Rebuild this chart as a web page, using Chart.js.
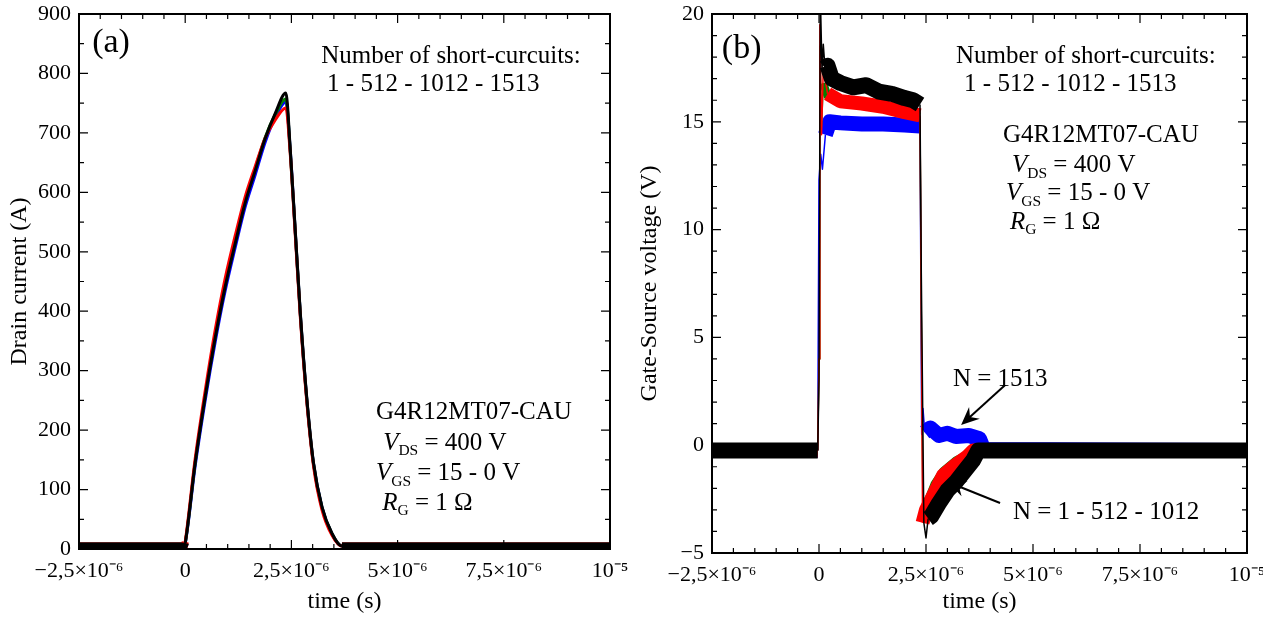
<!DOCTYPE html>
<html>
<head>
<meta charset="utf-8">
<script src="https://cdn.jsdelivr.net/npm/chart.js@4.4.1/dist/chart.umd.min.js"></script>
<style>
  html, body { margin: 0; padding: 0; background: #fff; }
  body { width: 1263px; height: 626px; position: relative; overflow: hidden; }
  canvas { position: absolute; top: 0; }
  #chartA { left: 0; }
  #chartB { left: 630px; }
</style>
</head>
<body>
<canvas id="chartA" width="630" height="626"></canvas>
<canvas id="chartB" width="633" height="626"></canvas>
<script>
// ---- data (time in microseconds) ----
const timeTicks = [-2.5e-6, 0, 2.5e-6, 5e-6, 7.5e-6, 1e-5];
const timeTickLabels = ['−2,5×10⁻⁶', '0', '2,5×10⁻⁶', '5×10⁻⁶', '7,5×10⁻⁶', '10⁻⁵'];
const currentTicks = [0, 100, 200, 300, 400, 500, 600, 700, 800, 900];
const voltageTicks = [-5, 0, 5, 10, 15, 20];
const voltageTickLabels = ['−5', '0', '5', '10', '15', '20'];

// (a) drain current, A
const drainTime = [-2.5, -0.02, 0, 0.235, 0.47, 0.71, 0.94, 1.18, 1.41, 1.65, 1.88, 2.12, 2.37, 2.47, 2.59, 2.71, 2.86, 3.02, 3.22, 3.45, 3.69, 3.84, 10];
const drainBlack = [5, 5, 10, 145, 256, 357, 441, 515, 582, 637, 690, 733, 767, 676, 537, 397, 256, 145, 71, 27, 5, 5, 5];
const drainRed   = [5, 5, 12, 152, 266, 370, 455, 528, 592, 644, 691, 722, 742, 668, 530, 390, 250, 140, 66, 24, 5, 5, 5];
const drainGreen = [5, 5, 10, 146, 258, 359, 444, 518, 585, 640, 692, 731, 757, 672, 534, 394, 253, 143, 69, 26, 5, 5, 5];
const drainBlue  = [5, 5, 9, 140, 250, 350, 434, 508, 575, 630, 684, 726, 752, 674, 535, 395, 254, 144, 70, 26, 5, 5, 5];

// (b) gate-source voltage, V
const gateTimeBlack = [-2.5, -0.03, 0, 0.03, 0.07, 0.1, 0.14, 0.2, 0.3, 0.5, 0.8, 1.1, 1.4, 1.7, 2.0, 2.2, 2.36, 2.39, 2.45, 2.5, 2.55, 2.62, 2.8, 3.0, 3.2, 3.4, 3.6, 3.72, 10];
const gateBlack = [-0.25, -0.25, 3, 21, 17.4, 18.6, 17.5, 17.6, 17.0, 16.8, 16.6, 16.7, 16.4, 16.3, 16.1, 16.0, 15.8, 8, -3.6, -4.3, -3.4, -3.3, -2.7, -2.1, -1.7, -1.2, -0.7, -0.25, -0.25];
const gateTimeRed = [-2.5, -0.03, 0, 0.02, 0.06, 0.1, 0.2, 0.5, 1.0, 1.5, 2.0, 2.36, 2.39, 2.42, 2.5, 2.7, 2.9, 3.2, 3.45, 3.6, 10];
const gateRed = [-0.25, -0.25, 4, 19.5, 14.4, 17.5, 16.3, 15.95, 15.85, 15.7, 15.45, 15.3, 6, -3.6, -3.0, -2.2, -1.4, -0.9, -0.55, -0.25, -0.25];
const gateTimeGreen = [-2.5, -0.03, 0, 0.02, 0.06, 0.1, 0.2, 0.5, 1.0, 1.5, 2.0, 2.36, 2.39, 2.43, 2.5, 2.7, 2.9, 3.2, 3.5, 3.6, 10];
const gateGreen = [-0.25, -0.25, 4, 18.5, 14.8, 16.8, 16.2, 15.9, 15.8, 15.65, 15.4, 15.25, 6, -3.2, -2.8, -1.8, -1.2, -0.7, -0.4, -0.25, -0.25];
const gateTimeBlue = [-2.5, -0.03, 0, 0.04, 0.08, 0.15, 0.25, 0.5, 1.0, 1.5, 2.0, 2.36, 2.4, 2.43, 2.47, 2.6, 2.8, 3.0, 3.2, 3.5, 3.75, 3.85, 10];
const gateBlue = [-0.25, -0.25, 12.3, 13.5, 12.8, 14.4, 15.0, 14.95, 14.9, 14.9, 14.85, 14.8, 0.5, 1.7, 0.6, 0.8, 0.45, 0.55, 0.4, 0.45, 0.3, -0.2, -0.25];

const SERIF = "'Liberation Serif', 'Times New Roman', serif";
Chart.defaults.font.family = SERIF;
Chart.defaults.color = '#000';

function drawRich(ctx, x, y, parts, size) {
   let cx = x;
   parts.forEach(p => {
      const s = p.sub ? size * 0.62 : size;
      ctx.font = (p.italic ? 'italic ' : '') + s + 'px ' + SERIF;
      ctx.fillText(p.t, cx, y + (p.sub ? size * 0.22 : 0));
      cx += ctx.measureText(p.t).width;
   });
}

// frame, inward ticks, notes and arrows
const framePlugin = {
   id: 'frame',
   afterDraw(chart, args, o) {
      const ctx = chart.ctx, a = chart.chartArea;
      const xs = chart.scales.x, ys = chart.scales.y;
      ctx.save();
      ctx.strokeStyle = '#000';
      ctx.lineWidth = 1.2;
      ctx.beginPath();
      const nx = Math.round((xs.max - xs.min) / o.xMinor);
      for (let i = 0; i <= nx; i++) {
         const px = xs.getPixelForValue(xs.min + i * o.xMinor);
         const len = i % o.xEvery === 0 ? 9 : 5;
         ctx.moveTo(px, a.bottom); ctx.lineTo(px, a.bottom - len);
         ctx.moveTo(px, a.top); ctx.lineTo(px, a.top + len);
      }
      const ny = Math.round((ys.max - ys.min) / o.yMinor);
      for (let i = 0; i <= ny; i++) {
         const py = ys.getPixelForValue(ys.min + i * o.yMinor);
         const len = i % o.yEvery === 0 ? 9 : 5;
         ctx.moveTo(a.left, py); ctx.lineTo(a.left + len, py);
         ctx.moveTo(a.right, py); ctx.lineTo(a.right - len, py);
      }
      ctx.stroke();
      ctx.lineWidth = 2;
      ctx.strokeRect(a.left, a.top, a.right - a.left, a.bottom - a.top);

      ctx.fillStyle = '#000';
      ctx.textAlign = 'left';
      ctx.textBaseline = 'alphabetic';
      o.notes.forEach(n => {
         drawRich(ctx, xs.getPixelForValue(n.t * 1e-6), ys.getPixelForValue(n.v), n.parts, n.size);
      });
      (o.arrows || []).forEach(ar => {
         const x0 = xs.getPixelForValue(ar.from[0] * 1e-6), y0 = ys.getPixelForValue(ar.from[1]);
         const x1 = xs.getPixelForValue(ar.to[0] * 1e-6), y1 = ys.getPixelForValue(ar.to[1]);
         const ang = Math.atan2(y1 - y0, x1 - x0);
         const c = Math.cos(ang), s = Math.sin(ang);
         ctx.lineWidth = 2;
         ctx.beginPath();
         ctx.moveTo(x0, y0);
         ctx.lineTo(x1 - 10 * c, y1 - 10 * s);
         ctx.stroke();
         ctx.beginPath();
         ctx.moveTo(x1, y1);
         ctx.lineTo(x1 - 18 * c + 8 * s, y1 - 18 * s - 8 * c);
         ctx.lineTo(x1 - 12 * c, y1 - 12 * s);
         ctx.lineTo(x1 - 18 * c - 8 * s, y1 - 18 * s + 8 * c);
         ctx.closePath();
         ctx.fill();
      });
      ctx.restore();
   }
};

function toPoints(times, values) {
   return times.map((t, i) => ({ x: t * 1e-6, y: values[i] }));
}

function drainSet(values, color, order) {
   return {
      data: toPoints(drainTime, values),
      borderColor: color,
      borderWidth: 3,
      pointRadius: 0,
      cubicInterpolationMode: 'monotone',
      order: order,
      segment: {
         borderWidth: c => (c.p0.parsed.y < 15 && c.p1.parsed.y < 15) ? 7 : 3
      }
   };
}

function gateSet(times, values, color, width, order) {
   return {
      data: toPoints(times, values),
      borderColor: color,
      borderWidth: width,
      borderJoinStyle: 'round',
      pointRadius: 0,
      tension: 0,
      order: order,
      segment: {
         borderWidth: c => Math.abs(c.p1.y - c.p0.y) > 6 * Math.abs(c.p1.x - c.p0.x) ? 1.5 : width
      }
   };
}

function makeChart(id, cfg) {
   return new Chart(document.getElementById(id), {
      type: 'line',
      data: { datasets: cfg.datasets },
      options: {
         responsive: false,
         animation: false,
         layout: { padding: { top: cfg.top, right: cfg.right, left: 0, bottom: 0 } },
         plugins: {
            legend: { display: false },
            tooltip: { enabled: false },
            frame: cfg.frame
         },
         scales: {
            x: {
               type: 'linear',
               min: -2.5e-6,
               max: 1e-5,
               afterBuildTicks: s => { s.ticks = timeTicks.map(v => ({ value: v })); },
               afterFit: s => { s.height = cfg.xHeight; s.paddingLeft = 0; s.paddingRight = 0; },
               grid: { display: false, drawTicks: false },
               border: { display: false },
               ticks: {
                  font: { size: 22 }, padding: 9, maxRotation: 0, autoSkip: false,
                  callback: (v, i) => timeTickLabels[i]
               },
               title: { display: true, text: 'time (s)', font: { size: 24 }, padding: { top: 0, bottom: 10 } }
            },
            y: {
               type: 'linear',
               min: cfg.yMin,
               max: cfg.yMax,
               afterBuildTicks: s => { s.ticks = cfg.yTicks.map(v => ({ value: v })); },
               afterFit: s => { s.width = cfg.yWidth; s.paddingTop = 0; s.paddingBottom = 0; },
               grid: { display: false, drawTicks: false },
               border: { display: false },
               ticks: {
                  font: { size: 22 }, padding: 8, autoSkip: false,
                  callback: (v, i) => cfg.yLabels[i]
               },
               title: { display: true, text: cfg.yTitle, font: { size: 24 }, padding: { top: 5, bottom: 0 } }
            }
         }
      },
      plugins: [framePlugin]
   });
}

const big = 25;

makeChart('chartA', {
   top: 14, right: 20, xHeight: 77, yWidth: 79,
   yMin: 0, yMax: 900, yTicks: currentTicks, yLabels: currentTicks.map(String),
   yTitle: 'Drain current (A)',
   datasets: [
      drainSet(drainBlack, '#000000', 0),
      drainSet(drainRed, '#ff0000', 1),
      drainSet(drainGreen, '#008000', 2),
      drainSet(drainBlue, '#0000ff', 3)
   ],
   frame: {
      xMinor: 0.5e-6, xEvery: 5, yMinor: 50, yEvery: 2,
      notes: [
         { t: -2.19, v: 836, size: 34, parts: [{ t: '(a)' }] },
         { t: 3.2, v: 818, size: big, parts: [{ t: 'Number of short-curcuits:' }] },
         { t: 3.34, v: 770, size: big, parts: [{ t: '1 - 512 - 1012 - 1513' }] },
         { t: 4.49, v: 219, size: big, parts: [{ t: 'G4R12MT07-CAU' }] },
         { t: 4.66, v: 167, size: big, parts: [{ t: 'V', italic: true }, { t: 'DS', sub: true }, { t: ' = 400 V' }] },
         { t: 4.49, v: 116, size: big, parts: [{ t: 'V', italic: true }, { t: 'GS', sub: true }, { t: ' = 15 - 0 V' }] },
         { t: 4.64, v: 66, size: big, parts: [{ t: 'R', italic: true }, { t: 'G', sub: true }, { t: ' = 1 Ω' }] }
      ]
   }
});

makeChart('chartB', {
   top: 14, right: 16, xHeight: 73, yWidth: 82,
   yMin: -5, yMax: 20, yTicks: voltageTicks, yLabels: voltageTickLabels,
   yTitle: 'Gate-Source voltage (V)',
   datasets: [
      gateSet(gateTimeBlack, gateBlack, '#000000', 16, 0),
      gateSet(gateTimeRed, gateRed, '#ff0000', 14, 1),
      gateSet(gateTimeGreen, gateGreen, '#008000', 8, 2),
      gateSet(gateTimeBlue, gateBlue, '#0000ff', 15, 3)
   ],
   frame: {
      xMinor: 0.5e-6, xEvery: 5, yMinor: 1, yEvery: 5,
      notes: [
         { t: -2.27, v: 17.96, size: 34, parts: [{ t: '(b)' }] },
         { t: 3.2, v: 17.73, size: big, parts: [{ t: 'Number of short-curcuits:' }] },
         { t: 3.39, v: 16.43, size: big, parts: [{ t: '1 - 512 - 1012 - 1513' }] },
         { t: 4.3, v: 14.06, size: big, parts: [{ t: 'G4R12MT07-CAU' }] },
         { t: 4.51, v: 12.67, size: big, parts: [{ t: 'V', italic: true }, { t: 'DS', sub: true }, { t: ' = 400 V' }] },
         { t: 4.37, v: 11.37, size: big, parts: [{ t: 'V', italic: true }, { t: 'GS', sub: true }, { t: ' = 15 - 0 V' }] },
         { t: 4.46, v: 10.03, size: big, parts: [{ t: 'R', italic: true }, { t: 'G', sub: true }, { t: ' = 1 Ω' }] },
         { t: 3.13, v: 2.75, size: big, parts: [{ t: 'N = 1513' }] },
         { t: 4.53, v: -3.42, size: big, parts: [{ t: 'N = 1 - 512 - 1012' }] }
      ],
      arrows: [
         { from: [4.35, 2.79], to: [3.32, 0.94] },
         { from: [4.23, -2.68], to: [3.01, -1.71] }
      ]
   }
});
</script>
</body>
</html>
